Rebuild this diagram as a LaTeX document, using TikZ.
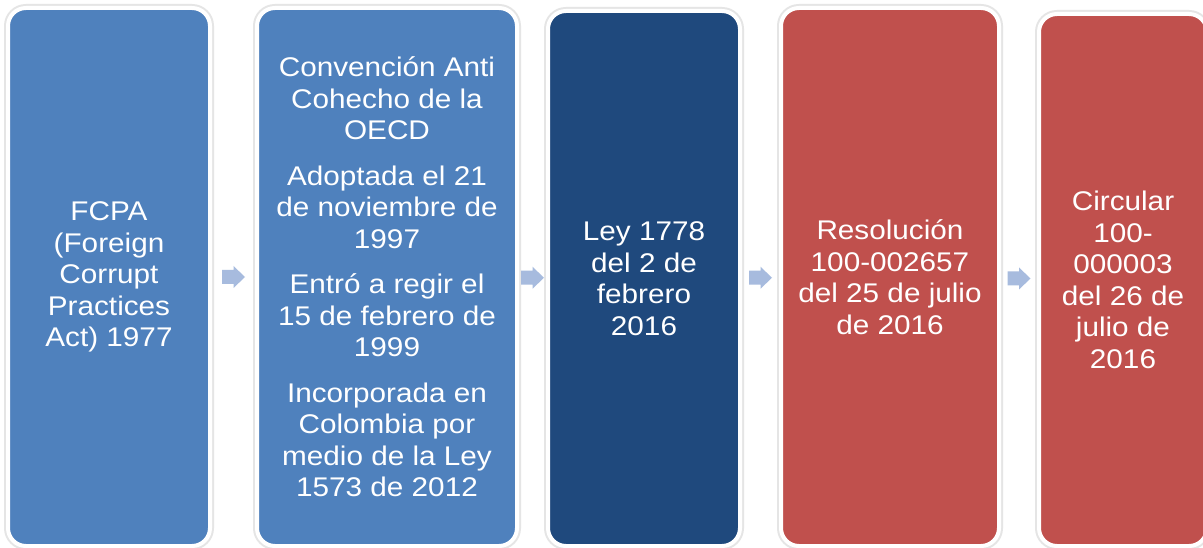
\documentclass[tikz,border=0pt]{standalone}
\usepackage{fontspec}
\setmainfont[FakeStretch=1.1]{Liberation Sans}
\usetikzlibrary{calc}
\definecolor{bluebox}{RGB}{79,129,189}
\definecolor{darkbox}{RGB}{31,73,125}
\definecolor{redbox}{RGB}{192,80,77}
\definecolor{arrowfill}{RGB}{167,187,222}
\tikzset{
  stagebox/.style={rectangle, rounded corners=18pt, draw=white, line width=4pt,
    preaction={draw=black!10, line width=8pt},
    text=white, align=center, inner sep=0pt,
    font=\fontsize{27}{31.5}\selectfont},
  stagearrow/.style={fill=arrowfill, draw=none}
}
\newcommand{\stagearr}[1]{%
  \fill[stagearrow] ($(#1)+(-11.5,-7)$) -- ($(#1)+(0,-7)$) -- ($(#1)+(0,-11)$) --
    ($(#1)+(11.5,0)$) -- ($(#1)+(0,11)$) -- ($(#1)+(0,7)$) -- ($(#1)+(-11.5,7)$) -- cycle;}
\begin{document}
\begin{tikzpicture}[x=1pt,y=-1pt]
\useasboundingbox[fill=white] (0,0) rectangle (1203,548);
\node[stagebox, fill=bluebox, minimum width=202pt, minimum height=538pt] (b1) at (109,277)
  {FCPA\\(Foreign\\Corrupt\\Practices\\Act) 1977};
\node[stagebox, fill=bluebox, minimum width=260pt, minimum height=538pt] (b2) at (387,277)
  {Convención Anti\\Cohecho de la\\OECD\\[14pt]Adoptada el 21\\de noviembre de\\1997\\[14pt]Entró a regir el\\15 de febrero de\\1999\\[14pt]Incorporada en\\Colombia por\\medio de la Ley\\1573 de 2012};
\node[stagebox, fill=darkbox, minimum width=192pt, minimum height=535pt] (b3) at (644,278.5)
  {Ley 1778\\del 2 de\\febrero\\2016};
\node[stagebox, fill=redbox, minimum width=218pt, minimum height=538pt] (b4) at (890,277)
  {Resolución\\100-002657\\del 25 de julio\\de 2016};
\node[stagebox, fill=redbox, minimum width=168pt, minimum height=532pt] (b5) at (1123,280)
  {Circular\\100-\\000003\\del 26 de\\julio de\\2016};
\path (b1.east) -- (b2.west) coordinate[midway] (m1);
\path (b2.east) -- (b3.west) coordinate[midway] (m2);
\path (b3.east) -- (b4.west) coordinate[midway] (m3);
\path (b4.east) -- (b5.west) coordinate[midway] (m4);
\stagearr{m1}
\stagearr{m2}
\stagearr{m3}
\stagearr{m4}
\end{tikzpicture}
\end{document}
